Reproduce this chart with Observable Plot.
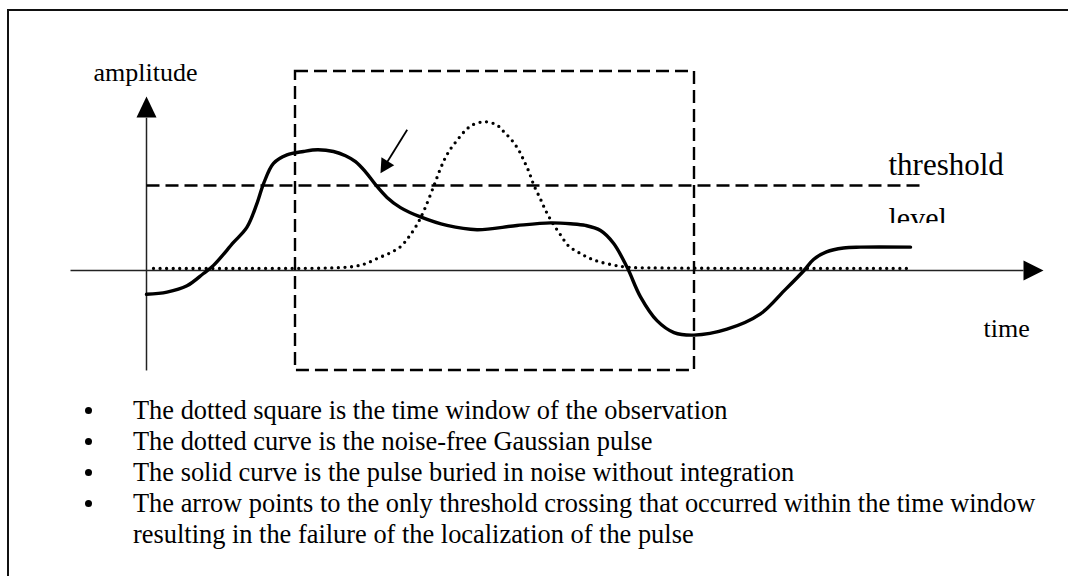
<!DOCTYPE html>
<html>
<head>
<meta charset="utf-8">
<script src="https://cdn.jsdelivr.net/npm/d3@7"></script>
<script src="https://cdn.jsdelivr.net/npm/@observablehq/plot@0.6"></script>
<style>
  html, body { margin: 0; padding: 0; background: #fff; overflow: hidden; }
  body { width: 1068px; height: 576px; position: relative; font-family: "Liberation Serif", "Times New Roman", serif; color: #000; }
  #frame { position: absolute; left: 7px; top: 9px; width: 2000px; height: 2000px; border-top: 2px solid #111; border-left: 2px solid #111; }
  #chart { position: absolute; left: 0; top: 0; }
  #notes { position: absolute; left: 0; top: 395px; margin: 0; padding: 0; list-style: none; font-size: 26.4px; line-height: 30.9px; }
  #notes li { position: relative; padding-left: 133px; width: 920px; }
  #notes li::before { content: ""; position: absolute; left: 85px; top: 12px; width: 7px; height: 7px; border-radius: 50%; background: #000; }
</style>
</head>
<body>
<div id="frame"></div>
<div id="chart"></div>
<ul id="notes"></ul>
<script>
// Noisy pulse without integration (solid curve)
const noisyTime = [0, 0.41, 0.81, 1.14, 1.34, 1.74, 2.01, 2.21, 2.34, 2.54, 2.81, 3.14, 3.42, 3.74, 3.98, 4.18, 4.38, 4.58, 4.81, 5.08, 5.48, 6.01, 6.61, 7.41, 8.08, 8.48, 8.78, 9.08, 9.34, 9.61, 9.88, 10.21, 10.55, 10.95, 11.61, 12.28, 12.75, 13.15, 13.34, 13.6, 13.94, 14.28, 15.28];
const noisyAmp  = [-0.28, -0.255, -0.18, -0.035, 0.06, 0.33, 0.51, 0.79, 1.02, 1.26, 1.36, 1.40, 1.42, 1.40, 1.35, 1.28, 1.16, 1.01, 0.86, 0.74, 0.63, 0.53, 0.48, 0.53, 0.56, 0.55, 0.53, 0.47, 0.32, 0.04, -0.31, -0.59, -0.73, -0.76, -0.69, -0.51, -0.24, 0, 0.13, 0.22, 0.265, 0.275, 0.275];

// Noise-free Gaussian pulse (dotted curve)
const pulseTime = [0.14, 2.08, 3.68, 4.14, 4.38, 4.61, 4.88, 5.08, 5.24, 5.41, 5.56, 5.75, 5.88, 5.98, 6.08, 6.21, 6.35, 6.51, 6.77, 7.01, 7.15, 7.31, 7.45, 7.55, 7.65, 7.75, 7.88, 7.98, 8.11, 8.28, 8.44, 8.68, 8.92, 9.21, 9.61, 10.28, 15.21];
const pulseAmp  = [0.024, 0.024, 0.03, 0.047, 0.08, 0.14, 0.21, 0.28, 0.39, 0.54, 0.72, 1.0, 1.20, 1.33, 1.43, 1.53, 1.63, 1.71, 1.75, 1.71, 1.63, 1.53, 1.41, 1.29, 1.16, 1.0, 0.84, 0.71, 0.57, 0.42, 0.29, 0.20, 0.13, 0.08, 0.04, 0.03, 0.024];

// Observation window (dashed box) and threshold level
const windowStart = 2.98, windowEnd = 10.96;
const windowLow = -1.176, windowHigh = 2.341;
const thresholdLevel = 1.0;
const thresholdEnd = 15.46;

// Axes extents
const timeAxis = {from: -1.52, to: 17.94};
const ampAxis = {from: -1.176, to: 2.047};

// Pointer arrow at the single crossing inside the window
const pointerFrom = {t: 5.214, a: 1.655};
const pointerTo = {t: 4.68, a: 1.145};

// Text labels
const labelText = ["amplitude", "threshold", "level", "time"];
const labelTime = [-1.06, 14.84, 14.84, 16.74];
const labelAmp  = [2.224, 1.129, 0.50, -0.788];
const labelSize = [26, 31, 30, 26];

const notes = [
  "The dotted square is the time window of the observation",
  "The dotted curve is the noise-free Gaussian pulse",
  "The solid curve is the pulse buried in noise without integration",
  "The arrow points to the only threshold crossing that occurred within the time window resulting in the failure of the localization of the pulse"
];

const noisy = noisyTime.map((t, i) => ({t, a: noisyAmp[i]}));
const pulse = pulseTime.map((t, i) => ({t, a: pulseAmp[i]}));
const labels = labelText.map((text, i) => ({text, t: labelTime[i], a: labelAmp[i], size: labelSize[i]}));

// Filled triangular arrowhead, tip at the origin pointing up
const head = (len, half) => ({
  draw(ctx) {
    ctx.moveTo(0, 0);
    ctx.lineTo(-half, len);
    ctx.lineTo(half, len);
    ctx.closePath();
  }
});

const W = 1068, H = 385;
const x0 = 146, pxPerTime = 50;   // time origin in pixels and scale
const y0 = 270, pxPerAmp = 85;    // amplitude origin in pixels and scale

const serif = "Liberation Serif, Times New Roman, serif";

const chart = Plot.plot({
  width: W,
  height: H,
  margin: 0,
  x: {axis: null, domain: [-x0 / pxPerTime, (W - x0) / pxPerTime], range: [0, W]},
  y: {axis: null, domain: [(y0 - H) / pxPerAmp, y0 / pxPerAmp], range: [H, 0]},
  style: {background: "transparent", overflow: "visible", fontFamily: serif},
  marks: [
    // axes
    Plot.link([timeAxis], {x1: "from", x2: d => d.to - 0.4, y1: () => 0, y2: () => 0, stroke: "#222", strokeWidth: 1.5}),
    Plot.link([ampAxis], {x1: () => 0, x2: () => 0, y1: "from", y2: d => d.to - 0.25, stroke: "#222", strokeWidth: 1.5}),
    Plot.dot([timeAxis], {x: "to", y: () => 0, symbol: head(20, 10), rotate: 90, fill: "#000", stroke: "none"}),
    Plot.dot([ampAxis], {x: () => 0, y: "to", symbol: head(21, 10), rotate: 0, fill: "#000", stroke: "none"}),

    // observation window
    Plot.rect([{windowStart, windowEnd, windowLow, windowHigh}], {
      x1: "windowStart", x2: "windowEnd", y1: "windowLow", y2: "windowHigh",
      fill: "none", stroke: "#000", strokeWidth: 2.4, strokeDasharray: "13 6"
    }),

    // threshold level
    Plot.link([{thresholdLevel, thresholdEnd}], {
      x1: () => 0, x2: "thresholdEnd", y1: "thresholdLevel", y2: "thresholdLevel",
      stroke: "#000", strokeWidth: 2.4, strokeDasharray: "13 6"
    }),

    // labels
    Plot.text(labels, {x: "t", y: "a", text: "text", fontSize: "size", textAnchor: "start", lineAnchor: "bottom", fill: "#000", fontFamily: serif}),
    // the "level" label sits in a text box that crops its lower edge
    Plot.rect([{t1: 14.7, t2: 16.4, a1: 0.40, a2: 0.553}], {x1: "t1", x2: "t2", y1: "a1", y2: "a2", fill: "#fff"}),

    // noise-free pulse
    Plot.line(pulse, {x: "t", y: "a", curve: "catmull-rom", stroke: "#000", strokeWidth: 3.3, strokeDasharray: "0 6.6", strokeLinecap: "round"}),
    // pulse buried in noise
    Plot.line(noisy, {x: "t", y: "a", curve: "catmull-rom", stroke: "#000", strokeWidth: 3.4, strokeLinejoin: "round"}),

    // pointer
    Plot.link([{pointerFrom, pointerTo}], {
      x1: d => d.pointerFrom.t, y1: d => d.pointerFrom.a,
      x2: d => d.pointerTo.t + 0.1, y2: d => d.pointerTo.a + 0.1,
      stroke: "#000", strokeWidth: 1.8
    }),
    Plot.dot([pointerTo], {x: "t", y: "a", symbol: head(14, 7.5), rotate: 211.6, fill: "#000", stroke: "none"})
  ]
});

document.getElementById("chart").append(chart);

const list = document.getElementById("notes");
for (const n of notes) {
  const li = document.createElement("li");
  li.textContent = n;
  list.append(li);
}
</script>
</body>
</html>
